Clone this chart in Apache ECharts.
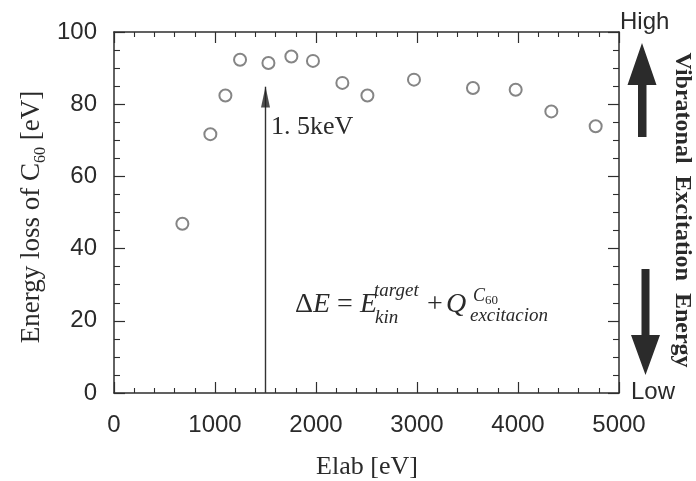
<!DOCTYPE html>
<html><head><meta charset="utf-8">
<script src="https://cdn.jsdelivr.net/npm/echarts@6/dist/echarts.min.js"></script>
<style>html,body{margin:0;padding:0;background:#fff}#c{width:696px;height:481px}</style>
</head><body><div id="c"></div>
<script>
// ---- data ----
const elab = [677, 954, 1103, 1248, 1529, 1756, 1970, 2261, 2509, 2970, 3554, 3977, 4330, 4769];
const energyLoss = [46.9, 71.7, 82.4, 92.3, 91.4, 93.2, 92.0, 85.9, 82.4, 86.8, 84.5, 84.0, 78.0, 73.9];
const xTicks = [0, 1000, 2000, 3000, 4000, 5000];
const yTicks = [0, 20, 40, 60, 80, 100];
const arrowX = 1500;      // 1.5 keV marker
const arrowTop = 84.8;    // tip of marker arrow
const arrowHead = 82.0;   // centre of arrow head

const points = elab.map((x, i) => [x, energyLoss[i]]);

const AX = '#2e2e2e';
const TXT = '#2a2a2a';
const SANS = '"Liberation Sans", Arial, sans-serif';
const SERIF = '"Liberation Serif", "Times New Roman", serif';

function xAx(pos, labels) {
  return {
    type: 'value', position: pos, min: xTicks[0], max: xTicks[xTicks.length - 1],
    interval: xTicks[1] - xTicks[0],
    axisLine: { show: true, onZero: false, lineStyle: { color: AX, width: 1.5 } },
    axisTick: { show: true, inside: true, length: 11, lineStyle: { color: AX, width: 1.2 } },
    minorTick: { show: true, splitNumber: 5, length: 5, lineStyle: { color: AX, width: 1.1 } },
    splitLine: { show: false },
    axisLabel: { show: labels, margin: 20, fontFamily: SANS, fontSize: 24, color: TXT,
      formatter: v => String(v) }
  };
}
function yAx(pos, labels) {
  return {
    type: 'value', position: pos, min: yTicks[0], max: yTicks[yTicks.length - 1],
    interval: yTicks[1] - yTicks[0],
    axisLine: { show: true, onZero: false, lineStyle: { color: AX, width: 1.5 } },
    axisTick: { show: true, inside: true, length: 11, lineStyle: { color: AX, width: 1.2 } },
    minorTick: { show: true, splitNumber: 4, length: 6, lineStyle: { color: AX, width: 1.1 } },
    splitLine: { show: false },
    axisLabel: { show: labels, margin: 17, fontFamily: SANS, fontSize: 24, color: TXT,
      formatter: v => String(v) }
  };
}

const chart = echarts.init(document.getElementById('c'), null, { renderer: 'canvas' });
chart.setOption({
  backgroundColor: '#fff',
  animation: false,
  grid: { left: 114, right: 77, top: 32, bottom: 88, containLabel: false },
  xAxis: [xAx('bottom', true), xAx('top', false)],
  yAxis: [yAx('left', true), yAx('right', false)],
  series: [
    {
      type: 'scatter', data: points, symbol: 'emptyCircle', symbolSize: 12,
      itemStyle: { color: '#666', borderWidth: 1.2 }, z: 5
    },
    {
      type: 'line', data: [[arrowX, 0], [arrowX, arrowTop]], showSymbol: false, symbol: 'none',
      lineStyle: { color: '#333', width: 1.4 }, z: 3
    },
    {
      type: 'scatter', data: [[arrowX, arrowHead]], symbol: 'triangle', symbolSize: [9, 21],
      itemStyle: { color: '#222' }, z: 4
    }
  ],
  graphic: [
    { type: 'text', x: 32, y: 217, rotation: Math.PI / 2,
      style: {
        text: '{m|Energy loss of C}{s|60}{m| [eV]}',
        align: 'center', verticalAlign: 'middle', fill: TXT,
        rich: {
          m: { fontFamily: SERIF, fontSize: 27, lineHeight: 34, verticalAlign: 'middle', fill: TXT },
          s: { fontFamily: SERIF, fontSize: 16, lineHeight: 16, verticalAlign: 'bottom', fill: TXT }
        }
      } },
    { type: 'text', x: 367, y: 467,
      style: { text: 'Elab [eV]', font: '26px ' + SERIF, fill: TXT, align: 'center', verticalAlign: 'middle' } },
    { type: 'text', x: 271, y: 127,
      style: { text: '1. 5keV', font: '26px ' + SERIF, fill: TXT, align: 'left', verticalAlign: 'middle' } },
    // formula
    { type: 'text', x: 295, y: 305,
      style: {
        text: '{u|\u0394}{i|E}{u| = }{i|E}', align: 'left', verticalAlign: 'middle',
        rich: {
          u: { fontFamily: SERIF, fontSize: 28, fill: TXT },
          i: { fontFamily: SERIF, fontSize: 28, fontStyle: 'italic', fill: TXT }
        }
      } },
    { type: 'text', x: 374, y: 291,
      style: { text: 'target', font: 'italic 19px ' + SERIF, fill: TXT, align: 'left', verticalAlign: 'middle' } },
    { type: 'text', x: 375, y: 318,
      style: { text: 'kin', font: 'italic 19px ' + SERIF, fill: TXT, align: 'left', verticalAlign: 'middle' } },
    { type: 'text', x: 427, y: 305,
      style: { text: '+', font: '28px ' + SERIF, fill: TXT, align: 'left', verticalAlign: 'middle' } },
    { type: 'text', x: 446, y: 305,
      style: { text: 'Q', font: 'italic 28px ' + SERIF, fill: TXT, align: 'left', verticalAlign: 'middle' } },
    { type: 'text', x: 473, y: 297,
      style: {
        text: '{i|C}{s|60}', align: 'left', verticalAlign: 'middle',
        rich: {
          i: { fontFamily: SERIF, fontSize: 18, fontStyle: 'italic', fill: TXT, lineHeight: 20, verticalAlign: 'top' },
          s: { fontFamily: SERIF, fontSize: 13, fill: TXT, lineHeight: 20, verticalAlign: 'bottom' }
        }
      } },
    { type: 'text', x: 470, y: 316,
      style: { text: 'excitacion', font: 'italic 19px ' + SERIF, fill: TXT, align: 'left', verticalAlign: 'middle' } },
    // right side
    { type: 'text', x: 620, y: 22,
      style: { text: 'High', font: '24px ' + SANS, fill: TXT, align: 'left', verticalAlign: 'middle' } },
    { type: 'text', x: 631, y: 392,
      style: { text: 'Low', font: '24px ' + SANS, fill: TXT, align: 'left', verticalAlign: 'middle' } },
    { type: 'polygon', shape: { points: [[638, 137], [646.5, 137], [646.5, 85], [656.5, 85], [642, 43], [627.5, 85], [638, 85]] },
      style: { fill: '#2b2b2b' } },
    { type: 'polygon', shape: { points: [[641.5, 269], [649.5, 269], [649.5, 335], [660, 335], [645.5, 375], [631, 335], [641.5, 335]] },
      style: { fill: '#2b2b2b' } },
    { type: 'text', x: 682, y: 210, rotation: -Math.PI / 2,
      style: { text: 'Vibratonal  Excitation  Energy', font: 'bold 24px ' + SERIF, fill: TXT, align: 'center', verticalAlign: 'middle' } }
  ]
});
</script>
</body></html>
